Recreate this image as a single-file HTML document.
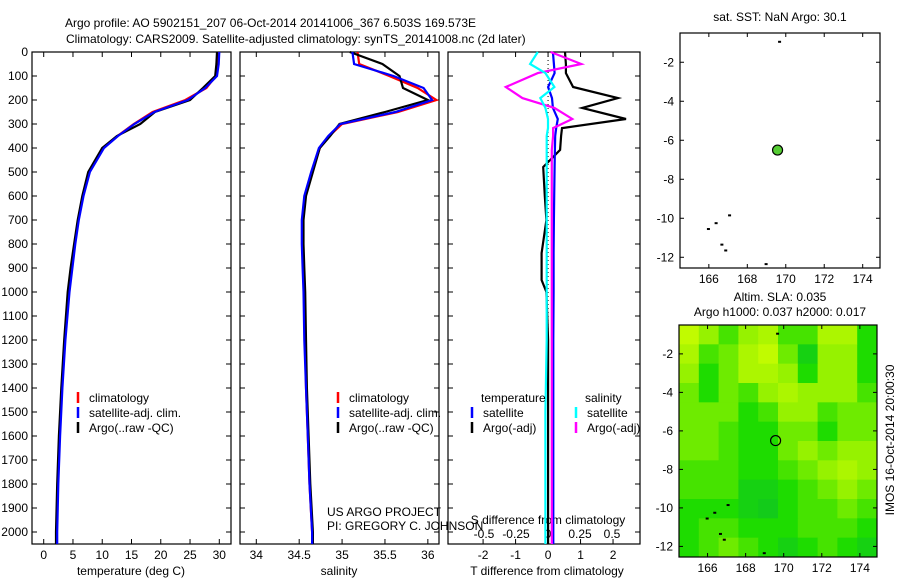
<!DOCTYPE html>
<html><head><meta charset="utf-8"><style>
body{margin:0;background:#fff}
svg{display:block;font-family:"Liberation Sans",sans-serif;font-size:12px}
</style></head><body>
<svg id="c" width="900" height="580" xmlns="http://www.w3.org/2000/svg">
<text x="65" y="27">Argo profile: AO 5902151_207 06-Oct-2014 20141006_367 6.503S 169.573E</text>
<text x="66" y="43">Climatology: CARS2009. Satellite-adjusted climatology: synTS_20141008.nc (2d later)</text>
<text x="780" y="21" text-anchor="middle">sat. SST: NaN Argo: 30.1</text>
<text x="780" y="301" text-anchor="middle">Altim. SLA: 0.035</text>
<text x="780" y="316" text-anchor="middle">Argo h1000: 0.037 h2000: 0.017</text>
<text transform="translate(894,440) rotate(-90)" text-anchor="middle">IMOS 16-Oct-2014 20:00:30</text>
<text x="327" y="516">US ARGO PROJECT</text>
<text x="327" y="530">PI: GREGORY C. JOHNSON</text>
<g id="g"></g>
</svg>
<script>
const depths=[0,50,100,150,200,250,300,350,400,500,600,700,800,900,1000,1200,1400,1600,1800,2000,2050];
const tempArgo=[29.6,29.5,29.3,27.2,25.0,19.0,16.5,12.5,10.0,7.6,6.6,5.8,5.2,4.6,4.1,3.5,3.0,2.6,2.3,2.1,2.1];
const tempClim=[29.8,29.7,29.4,27.8,24.2,18.6,15.4,12.6,10.2,7.8,6.7,5.9,5.3,4.8,4.3,3.6,3.1,2.7,2.4,2.2,2.2];
const tempSat=[30.0,29.9,29.6,27.6,24.6,18.9,15.5,12.7,10.3,7.9,6.8,6.0,5.4,4.9,4.4,3.7,3.2,2.8,2.5,2.3,2.3];
const salArgo=[35.09,35.47,35.67,35.71,36.0,35.5,34.97,34.86,34.74,34.66,34.58,34.55,34.55,34.56,34.57,34.58,34.59,34.61,34.63,34.66,34.66];
const salClim=[35.18,35.2,35.55,35.88,36.1,35.65,35.0,34.85,34.74,34.65,34.57,34.54,34.54,34.55,34.56,34.57,34.58,34.6,34.62,34.65,34.65];
const salSat=[35.12,35.14,35.6,35.95,36.05,35.62,34.98,34.84,34.73,34.64,34.56,34.53,34.53,34.54,34.55,34.56,34.58,34.6,34.62,34.65,34.65];
const dDepths=[0,50,88,146,192,233,279,317,350,408,479,600,700,838,950,1000,1200,1500,2000,2050];
const dTArgo=[0.52,0.55,0.55,0.77,2.15,1.05,2.4,0.43,0.4,0.37,-0.15,-0.1,-0.05,-0.2,-0.2,-0.05,0,0,0,0];
const dTSat=[0.15,0.18,0.2,0.0,0.12,0.15,0.3,0.25,0.22,0.21,0.2,0.19,0.18,0.17,0.17,0.17,0.16,0.16,0.16,0.16];
const dSArgo=[0.02,0.26,-0.08,-0.33,-0.2,0.05,0.19,0.04,0.04,0.03,0.03,0.03,0.03,0.03,0.03,0.03,0.03,0.03,0.03,0.03];
const dSSat=[-0.08,-0.14,-0.02,0.05,-0.06,-0.02,0.0,0.0,-0.01,-0.01,-0.01,-0.01,-0.01,-0.01,-0.01,-0.01,-0.01,-0.02,-0.02,-0.02];
const depthTicks=[0,100,200,300,400,500,600,700,800,900,1000,1100,1200,1300,1400,1500,1600,1700,1800,1900,2000];
const tTicks=[0,5,10,15,20,25,30];
const sTicks=[34,34.5,35,35.5,36];
const dTTicks=[-2,-1,0,1,2];
const dSTicks=[-0.5,-0.25,0,0.25,0.5];
const lonTicks=[166,168,170,172,174];
const latTicks=[-2,-4,-6,-8,-10,-12];
const argoLon=169.573, argoLat=-6.503;
const sla=[
[0.9,0.7,0.5,0.7,0.8,0.5,0.5,0.8,0.8,0.4],
[0.8,0.5,0.6,0.8,0.9,0.6,0.3,0.7,0.7,0.4],
[0.7,0.4,0.6,0.8,0.8,0.7,0.4,0.7,0.7,0.4],
[0.6,0.4,0.6,0.5,0.7,0.8,0.7,0.7,0.7,0.5],
[0.6,0.6,0.6,0.4,0.5,0.7,0.7,0.5,0.6,0.6],
[0.6,0.6,0.5,0.4,0.4,0.6,0.6,0.4,0.6,0.6],
[0.6,0.6,0.5,0.4,0.4,0.6,0.7,0.6,0.7,0.7],
[0.5,0.5,0.5,0.4,0.4,0.5,0.6,0.7,0.8,0.7],
[0.5,0.5,0.5,0.3,0.3,0.4,0.5,0.6,0.7,0.6],
[0.4,0.4,0.4,0.3,0.25,0.4,0.5,0.5,0.6,0.5],
[0.4,0.5,0.5,0.4,0.4,0.4,0.5,0.5,0.5,0.4],
[0.4,0.5,0.6,0.5,0.4,0.3,0.4,0.5,0.4,0.3]];

const NS='http://www.w3.org/2000/svg';
const G=document.getElementById('g');
function el(t,a,p){const e=document.createElementNS(NS,t);for(const k in a)e.setAttribute(k,a[k]);(p||G).appendChild(e);return e;}
const TOP=52,BOT=544;
const yD=d=>TOP+d*0.24;
function lin(d0,d1,r0,r1){return v=>r0+(v-d0)/(d1-d0)*(r1-r0);}
const panels=[
 {x0:32,x1:231,sx:lin(-2,32,32,231),ticks:tTicks,name:'temperature-panel'},
 {x0:240,x1:439,sx:lin(33.81,36.13,240,439),ticks:sTicks,name:'salinity-panel'},
 {x0:448,x1:640,sx:lin(-3.08,2.83,448,640),ticks:dTTicks,name:'difference-panel'}];
panels.forEach((p,i)=>{
 const r=el('rect',{x:p.x0,y:TOP,width:p.x1-p.x0,height:BOT-TOP,fill:'none',stroke:'#000','stroke-width':1.2});
 
 
 depthTicks.forEach(d=>{
  el('line',{x1:p.x0,x2:p.x0+5,y1:yD(d),y2:yD(d),stroke:'#000'});
  el('line',{x1:p.x1,x2:p.x1-5,y1:yD(d),y2:yD(d),stroke:'#000'});
 });
 p.ticks.forEach(v=>{
  const x=p.sx(v);
  el('line',{x1:x,x2:x,y1:TOP,y2:TOP+5,stroke:'#000'});
  el('line',{x1:x,x2:x,y1:BOT,y2:BOT-5,stroke:'#000'});
  const t=el('text',{x:x,y:559,'text-anchor':'middle'});t.textContent=String(v);
  
  
 });
});
depthTicks.forEach(d=>{
 const t=el('text',{x:28,y:yD(d)+4,'text-anchor':'end'});t.textContent=d;
 
 
});
[['temperature (deg C)',131],['salinity',339],['T difference from climatology',547]].forEach(a=>{
 const t=el('text',{x:a[1],y:575,'text-anchor':'middle'});t.textContent=a[0];
 
 
});
const sdx=lin(-0.5,0.5,484,612);
dSTicks.forEach(v=>{const t=el('text',{x:sdx(v),y:538,'text-anchor':'middle'});t.textContent=String(v);
 
 });
{const t=el('text',{x:548,y:524,'text-anchor':'middle'});t.textContent='S difference from climatology';
 
 }
function line(xs,ds,sx,col,name,w){
 const pts=xs.map((v,i)=>sx(v).toFixed(1)+','+yD(ds[i]).toFixed(1)).join(' ');
 const e=el('polyline',{points:pts,fill:'none',stroke:col,'stroke-width':w||2.2});
 
 
}
line(tempClim,depths,panels[0].sx,'#f00','temp-climatology-line');
line(tempArgo,depths,panels[0].sx,'#000','temp-argo-line');
line(tempSat,depths,panels[0].sx,'#00f','temp-satellite-line');
line(salClim,depths,panels[1].sx,'#f00','sal-climatology-line');
line(salArgo,depths,panels[1].sx,'#000','sal-argo-line');
line(salSat,depths,panels[1].sx,'#00f','sal-satellite-line');
const dsx=panels[2].sx, ssx=v=>sdx(v);
el('line',{x1:dsx(0),x2:dsx(0),y1:TOP,y2:BOT,stroke:'#000','stroke-dasharray':'1,3'});
line(dTArgo,dDepths,dsx,'#000','tdiff-argo-line');
line(dTSat,dDepths,dsx,'#00f','tdiff-satellite-line');
line(dSArgo,dDepths,ssx,'#f0f','sdiff-argo-line');
line(dSSat,dDepths,ssx,'#0ff','sdiff-satellite-line');
function leg(x,y,col,txt){el('line',{x1:x,x2:x,y1:y-10,y2:y+1,stroke:col,'stroke-width':2.5});
 const t=el('text',{x:x+11,y:y});t.textContent=txt;
 
 }
[[78,'#f00','climatology'],[78,'#00f','satellite-adj. clim.'],[78,'#000','Argo(..raw -QC)']].forEach((a,i)=>leg(a[0],402+i*15,a[1],a[2]));
[[338,'#f00','climatology'],[338,'#00f','satellite-adj. clim.'],[338,'#000','Argo(..raw -QC)']].forEach((a,i)=>leg(a[0],402+i*15,a[1],a[2]));
{const t=el('text',{x:481,y:402});t.textContent='temperature';}
{const t=el('text',{x:585,y:402});t.textContent='salinity';}
leg(472,417,'#00f','satellite');leg(472,432,'#000','Argo(-adj)');
leg(576,417,'#0ff','satellite');leg(576,432,'#f0f','Argo(-adj)');
const stops=[[0,[0,175,70]],[0.4,[30,220,0]],[0.7,[150,242,0]],[1,[215,255,0]]];
function cmap(v){for(let i=1;i<stops.length;i++){if(v<=stops[i][0]||i==stops.length-1){const p=stops[i-1],q=stops[i];const t=Math.min(1,Math.max(0,(v-p[0])/(q[0]-p[0])));
 return 'rgb('+p[1].map((x,k)=>Math.round(x+(q[1][k]-x)*t)).join(',')+')';}}}
function map(x0,x1,y0,y1,name,fill){
 const lx=lin(164.5,174.9,x0,x1), ly=lin(-0.5,-12.55,y0,y1);
 if(fill){const R=sla.length,C=sla[0].length,cw=(x1-x0)/C,ch=(y1-y0)/R;
  sla.forEach((row,r)=>row.forEach((v,c)=>{const e=el('rect',{x:x0+c*cw,y:y0+r*ch,width:cw+0.5,height:ch+0.5,fill:cmap(v)});
   
   }));}
 const f=el('rect',{x:x0,y:y0,width:x1-x0,height:y1-y0,fill:'none',stroke:'#000','stroke-width':1.2});
 
 
 lonTicks.forEach(v=>{const x=lx(v);el('line',{x1:x,x2:x,y1:y0,y2:y0+4,stroke:'#000'});el('line',{x1:x,x2:x,y1:y1,y2:y1-4,stroke:'#000'});
  const t=el('text',{x:x,y:y1+15,'text-anchor':'middle'});t.textContent=v;
  
  });
 latTicks.forEach(v=>{const y=ly(v);el('line',{x1:x0,x2:x0+4,y1:y,y2:y,stroke:'#000'});el('line',{x1:x1,x2:x1-4,y1:y,y2:y,stroke:'#000'});
  const t=el('text',{x:x0-6,y:y+4,'text-anchor':'end'});t.textContent=v;
  
  });
 [[165.9,-10.5],[166.3,-10.2],[166.8,-11.6],[167,-9.8],[166.6,-11.3],[168.9,-12.3],[169.6,-0.9]].forEach(p=>{
  el('rect',{x:lx(p[0]),y:ly(p[1]),width:3,height:2,fill:'#000'});});
 const m=el('circle',{cx:lx(argoLon),cy:ly(argoLat),r:5,fill:fill?'none':'#5c3',stroke:'#000','stroke-width':1.2});
 
 
}
map(680,880,33,268,'sst-map',false);
map(679,877,325,557,'sla-map',true);
</script>
</body></html>
